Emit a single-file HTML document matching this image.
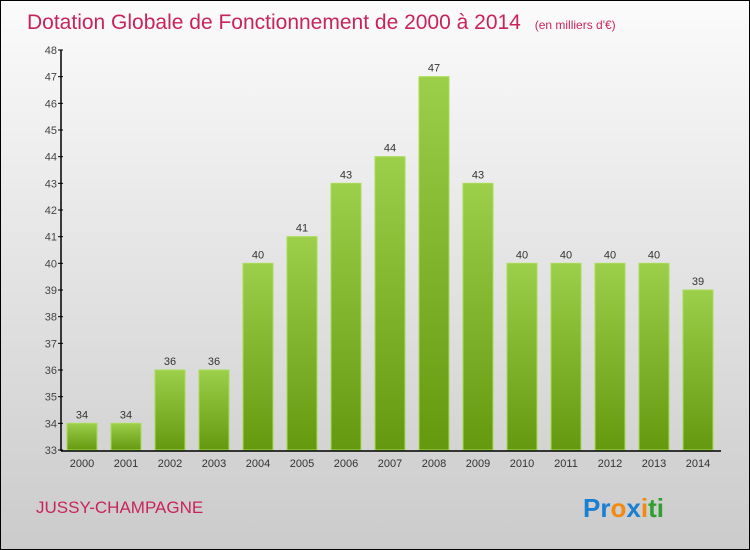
<!DOCTYPE html>
<html><head><meta charset="utf-8"><style>
body{margin:0;padding:0}
#wrap{position:relative;width:750px;height:550px;box-sizing:border-box;border:1px solid #000;background:linear-gradient(#fbfbfb,#cbcbcb);font-family:"Liberation Sans",sans-serif;overflow:hidden}
</style></head><body>
<div id="wrap">
<svg id="chart" width="748" height="548" style="position:absolute;left:0;top:0">
<defs><linearGradient id="g" x1="0" y1="0" x2="0" y2="1"><stop offset="0" stop-color="#9ccf4a"/><stop offset="1" stop-color="#64990f"/></linearGradient></defs>
<text x="26" y="28" font-size="21" fill="#c8245c">Dotation Globale de Fonctionnement de 2000 à 2014 <tspan font-size="12" dx="8">(en milliers d'€)</tspan></text>
<text x="35" y="512" font-size="17" fill="#c8245c">JUSSY-CHAMPAGNE</text>
<text x="582" y="516" font-size="26" font-weight="bold"><tspan fill="#1a7fd0">Pr</tspan><tspan fill="#f08a10">o</tspan><tspan fill="#1a7fd0">x</tspan><tspan fill="#f08a10">i</tspan><tspan fill="#2fa030">ti</tspan></text>
<g id="plot"></g>
</svg>
</div>
<script>
const categories=["2000","2001","2002","2003","2004","2005","2006","2007","2008","2009","2010","2011","2012","2013","2014"];
const values=[34,34,36,36,40,41,43,44,47,43,40,40,40,40,39];
const yTicks=[33,34,35,36,37,38,39,40,41,42,43,44,45,46,47,48];
const ns="http://www.w3.org/2000/svg";
const g=document.getElementById('plot');
const y=v=>449-(v-33)*(400/15);
const x=i=>81+i*44;
function el(t,a,txt){const e=document.createElementNS(ns,t);for(const k in a)e.setAttribute(k,a[k]);if(txt!==undefined)e.textContent=txt;g.appendChild(e);return e;}
yTicks.forEach(t=>{
 const tl=el('text',{x:56,y:y(t)+4,'font-size':11,fill:'#444','text-anchor':'end'},t);
 
 
 const tk=el('line',{x1:57,x2:62,y1:y(t),y2:y(t),stroke:'#000'});
 
 
});
values.forEach((v,i)=>{
 const r=el('rect',{x:x(i)-15,y:y(v),width:30,height:449-y(v),fill:'url(#g)',stroke:'#a8dc58','stroke-width':1});
 
 
 const vl=el('text',{x:x(i),y:y(v)-5,'font-size':11,fill:'#333','text-anchor':'middle'},v);
 
 
 const xl=el('text',{x:x(i),y:466,'font-size':11,fill:'#333','text-anchor':'middle'},categories[i]);
 
 
});
const ya=el('line',{x1:60,x2:60,y1:49,y2:450,stroke:'#000','stroke-width':1.5});


const xa=el('line',{x1:60,x2:720,y1:450,y2:450,stroke:'#000','stroke-width':1.5});


</script>
</body></html>
